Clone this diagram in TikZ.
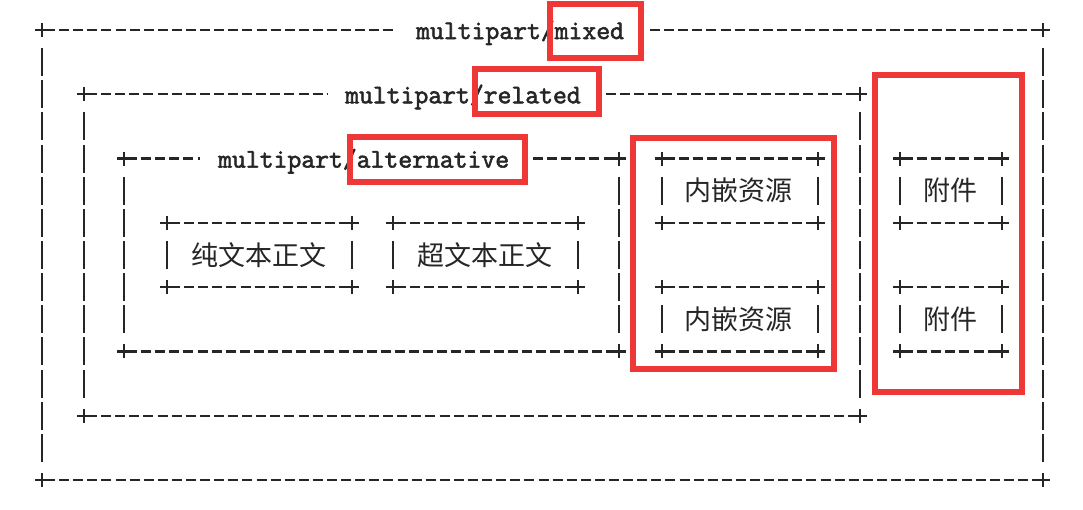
\documentclass[tikz,border=0pt]{standalone}
\usepackage{fontspec}
\newfontfamily\cjk{Noto Sans CJK SC}
\newfontfamily\mono{Latin Modern Mono}[FakeBold=2.2]
\definecolor{boxred}{RGB}{238,56,56}
\newcommand\rowy[1]{\fpeval{30+32.14*(#1)}}
\newcommand\plusat[2]{\draw[ln] ({#1-7},{#2}) -- ({#1+7},{#2}) ({#1},{#2-7}) -- ({#1},{#2+7});}
\newcommand\hseg[3]{\draw[hd] ({#1+3},{#3}) -- ({#2},{#3});}
\newcommand\vbars[3]{\foreach \r in {#2,...,#3}{\draw[ln] ({#1},{30+32.14*\r-14}) -- ({#1},{30+32.14*\r+14});}}
% ascii box: x1, x2, top row, bottom row
\newcommand\abox[4]{%
  \plusat{#1}{\rowy{#3}}\plusat{#2}{\rowy{#3}}\plusat{#1}{\rowy{#4}}\plusat{#2}{\rowy{#4}}%
  \hseg{#1}{#2}{\rowy{#3}}\hseg{#1}{#2}{\rowy{#4}}%
  \vbars{#1}{\inteval{#3+1}}{\inteval{#4-1}}\vbars{#2}{\inteval{#3+1}}{\inteval{#4-1}}}
\begin{document}
\begin{tikzpicture}[x=1pt,y=-1pt,
  ln/.style={line width=2.2pt,black!85},
  hd/.style={ln,dash pattern=on 10pt off 4.1pt},
  redbox/.style={draw=boxred,line width=6.5pt},
  lbl/.style={font=\mono\fontsize{26.9}{30}\selectfont,anchor=base west,inner sep=0pt,text=black!85},
  cj/.style={font=\cjk\fontsize{27}{30}\selectfont,inner sep=0pt,text=black!85}]
\useasboundingbox (0,0) rectangle (1083,509);
\fill[white] (0,0) rectangle (1083,509);
% multipart/mixed
\plusat{42}{30}\plusat{1043}{30}\plusat{42}{480}\plusat{1043}{480}
\hseg{42}{397}{30}\hseg{647}{1043}{30}\hseg{42}{1043}{480}
\vbars{42}{1}{13}\vbars{1043}{1}{13}
\node[lbl] (mixed) at (416,39) {multipart/mixed};
% multipart/related
\plusat{84}{\rowy{2}}\plusat{860}{\rowy{2}}\plusat{84}{\rowy{12}}\plusat{860}{\rowy{12}}
\hseg{84}{328}{\rowy{2}}\hseg{603}{860}{\rowy{2}}\hseg{84}{860}{\rowy{12}}
\vbars{84}{3}{11}\vbars{860}{3}{11}
\node[lbl] (related) at (345,{\rowy{2}+9}) {multipart/related};
% multipart/alternative
\plusat{124}{\rowy{4}}\plusat{619}{\rowy{4}}\plusat{124}{\rowy{10}}\plusat{619}{\rowy{10}}
\hseg{124}{200}{\rowy{4}}\hseg{530}{619}{\rowy{4}}\hseg{124}{619}{\rowy{10}}
\vbars{124}{5}{9}\vbars{619}{5}{9}
\node[lbl] (alt) at (218,{\rowy{4}+9}) {multipart/alternative};
% plain / html bodies
\abox{167}{352}{6}{8}
\node[cj] (plain) at (259,{\rowy{7}}) {纯文本正文};
\abox{393}{578}{6}{8}
\node[cj] (html) at (485,{\rowy{7}}) {超文本正文};
% inline resources
\abox{662}{818}{4}{6}
\node[cj] (res1) at (738,{\rowy{5}}) {内嵌资源};
\abox{662}{818}{8}{10}
\node[cj] (res2) at (738,{\rowy{9}}) {内嵌资源};
% attachments
\abox{900}{1002}{4}{6}
\node[cj] (att1) at (950,{\rowy{5}}) {附件};
\abox{900}{1002}{8}{10}
\node[cj] (att2) at (950,{\rowy{9}}) {附件};
% red highlight boxes
\draw[redbox] (550,4) rectangle (641,58);
\draw[redbox] (475,69) rectangle (599,114);
\draw[redbox] (350,137) rectangle (525,182);
\draw[redbox] (633,138) rectangle (834,369);
\draw[redbox] (875,75) rectangle (1022,392);
\end{tikzpicture}
\end{document}
